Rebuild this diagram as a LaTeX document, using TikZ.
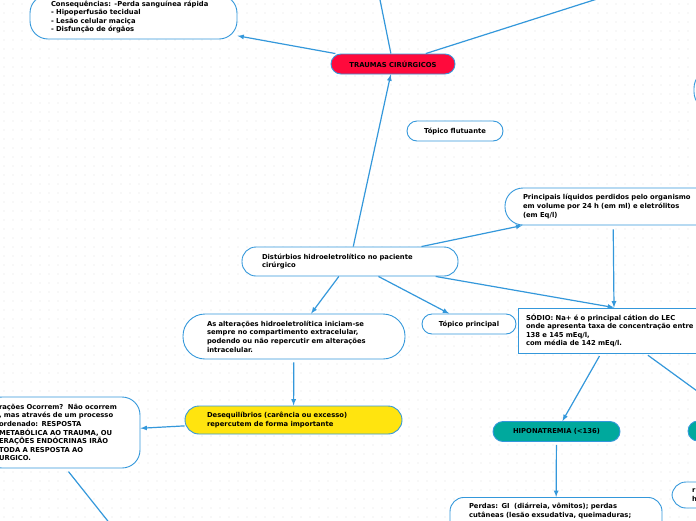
\documentclass[tikz,border=0pt]{standalone}
\usepackage{fontspec}
\setmainfont{DejaVu Sans}
\definecolor{linha}{HTML}{3498DB}
\definecolor{vermelho}{HTML}{FF0A3C}
\definecolor{amarelo}{HTML}{FFE40F}
\definecolor{verde}{HTML}{00A99D}
\definecolor{pontos}{HTML}{E4E4E4}
\tikzset{
	topico/.style={draw=linha, line width=0.9pt, fill=white, rounded corners=#1, inner sep=0pt,
		font=\fontsize{6.8}{8.6}\selectfont\bfseries, text=black},
	topico/.default=10pt,
	seta/.style={draw=linha, line width=1.2pt, -latex},
	fio/.style={draw=linha, line width=1.2pt},
}

\begin{document}
\begin{tikzpicture}[x=1pt, y=-1pt]
			\useasboundingbox (0,0) rectangle (696,520);
			\clip (0,0) rectangle (696,520);
			\fill[white] (0,0) rectangle (696,520);
			\foreach \i in {0,...,77} \foreach \j in {0,...,58} \fill[pontos] (9*\i+4,9*\j+4) circle (0.7pt);
			% topicos
			\node[topico=18pt, text width=165pt, inner xsep=21pt, minimum height=44pt, align=left] (cons) at (133.5,17) {Consequências: -Perda sanguínea rápida\\- Hipoperfusão tecidual\\- Lesão celular maciça\\- Disfunção de órgãos};
			\node[topico, fill=vermelho, minimum width=124pt, minimum height=20pt] (traumas) at (393,64) {TRAUMAS CIRÚRGICOS};
			\node[topico=18pt, minimum width=120pt, minimum height=40pt] (margem) at (754,90) {};
			\node[topico, minimum width=96pt, minimum height=20pt] (flutuante) at (455,131) {Tópico flutuante};
			\node[topico=18pt, text width=180pt, inner xsep=18pt, minimum height=37pt, align=left] (liquidos) at (613,206.5) {Principais líquidos perdidos pelo organismo\\em volume por 24 h (em ml) e eletrólitos\\(em Eq/l)};
			\node[topico=14pt, text width=176pt, inner xsep=20pt, minimum height=29pt, align=left] (disturbios) at (350,261.5) {Distúrbios hidroeletrolítico no paciente\\cirúrgico};
			\node[topico=22pt, text width=174pt, inner xsep=24pt, minimum height=45pt, align=left] (alteracoes) at (294,336.5) {As alterações hidroeletrolítica iniciam-se\\sempre no compartimento extracelular,\\podendo ou não repercutir em alterações\\intracelular.};
			\node[topico, minimum width=94pt, minimum height=20pt] (principal) at (469,324) {Tópico principal};
			\node[topico=0pt, text width=176pt, inner xsep=8pt, minimum height=45pt, align=left] (sodio) at (614,330.5) {SÓDIO: Na+ é o principal cátion do LEC\\onde apresenta taxa de concentração entre\\138 e 145 mEq/l,\\com média de 142 mEq/l.};
			\node[topico=14pt, fill=amarelo, text width=173pt, inner xsep=22pt, minimum height=28pt, align=left] (desequilibrios) at (293.5,420) {Desequilíbrios (carência ou excesso)\\repercutem de forma importante};
			\node[topico=18pt, text width=126pt, inner xsep=15pt, minimum height=71pt, align=left] (como) at (62,432.5) {rações Ocorrem?\ \ Não ocorrem\\, mas através de um processo\\ordenado: RESPOSTA\\METABÓLICA AO TRAUMA, OU\\ERAÇÕES ENDÓCRINAS IRÃO\\TODA A RESPOSTA AO\\URGICO.};
			\node[topico, fill=verde, minimum width=127pt, minimum height=20pt] (hipo) at (556.5,431.5) {HIPONATREMIA (<136)};
			\node[topico, fill=verde, minimum width=128pt, minimum height=20pt] (hiper) at (752,431) {};
			\node[topico=14pt, text width=140pt, inner xsep=20pt, minimum height=26pt, align=left] (direita) at (762,495) {r\\h};
			\node[topico=14pt, text width=174pt, inner xsep=19pt, inner ysep=6pt, text depth=30pt, align=left, anchor=north] (perdas) at (556,497) {Perdas: GI\ \ (diárreia, vômitos); perdas\\cutâneas (lesão exsudativa, queimaduras;};
			% pontas soltas
			\coordinate (topo1) at (377,-15);
			\coordinate (topo2) at (641,-15);
			\coordinate (baixo) at (115,530);
			% ligacoes
			\draw[seta] (traumas) -- (cons);
			\draw[fio] (traumas) -- (topo1);
			\draw[fio] (traumas) -- (topo2);
			\draw[seta] (disturbios) -- (traumas);
			\draw[seta] (disturbios) -- (liquidos);
			\draw[seta, shorten <=4pt] (liquidos) -- (sodio.north);
			\draw[seta] (disturbios) -- (alteracoes);
			\draw[seta] (disturbios) -- (principal);
			\draw[seta] (disturbios) -- (sodio.north);
			\draw[seta, shorten <=3pt] (alteracoes) -- (desequilibrios);
			\draw[seta] (desequilibrios) -- (como);
			\draw[fio, shorten <=4pt] ([xshift=4pt]como.south) -- (baixo);
			\draw[seta, shorten <=3pt] (sodio) -- (hipo);
			\draw[seta, shorten <=3pt] (sodio) -- (hiper);
			\draw[seta, shorten <=3pt] (hipo) -- (perdas);
		\end{tikzpicture}
\end{document}
